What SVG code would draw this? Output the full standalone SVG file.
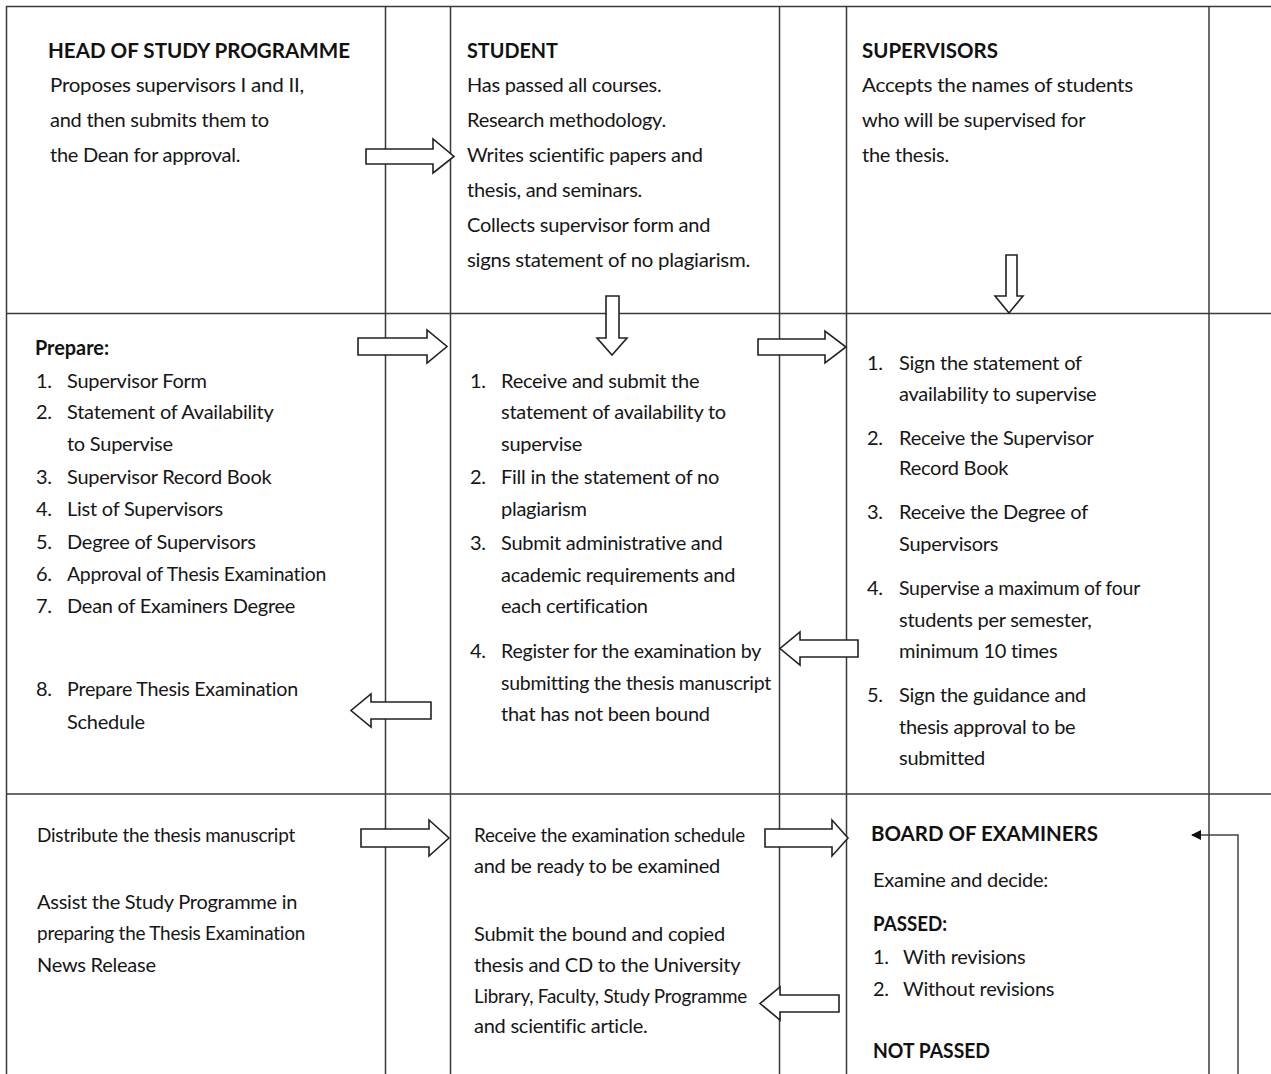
<svg xmlns="http://www.w3.org/2000/svg" width="1271" height="1074" viewBox="0 0 1271 1074">
<style>
text{font-family:Lato,"Open Sans","Liberation Sans",sans-serif;font-size:20px;letter-spacing:-0.25px;fill:#161616}
.b{font-weight:bold;font-size:21px;letter-spacing:0;fill:#111}
.grid{stroke:#3a3a3a;stroke-width:1.5;fill:none}
.ba{fill:#fff;stroke:#222;stroke-width:1.6;stroke-linejoin:miter}
.fl{stroke:#444;stroke-width:1.5;fill:none}
</style>
<defs>
<marker id="ah" markerWidth="10" markerHeight="10" refX="9" refY="5" orient="auto" markerUnits="userSpaceOnUse">
<path d="M0,0 L10,5 L0,10 z" fill="#111"/>
</marker>
</defs>
<rect width="1271" height="1074" fill="#fff"/>
<g id="grid" class="grid">
<line x1="6" y1="6.5" x2="1271" y2="6.5"/>
<line x1="6" y1="313.5" x2="1271" y2="313.5"/>
<line x1="6" y1="794" x2="1271" y2="794"/>
<line x1="6.5" y1="6" x2="6.5" y2="1074"/>
<line x1="385.5" y1="6" x2="385.5" y2="1074"/>
<line x1="450.5" y1="6" x2="450.5" y2="1074"/>
<line x1="779.5" y1="6" x2="779.5" y2="1074"/>
<line x1="846.5" y1="6" x2="846.5" y2="1074"/>
<line x1="1209" y1="6" x2="1209" y2="1074"/>
</g>
<g id="head-r1">
<text class="b" x="48" y="58" textLength="302" lengthAdjust="spacingAndGlyphs">HEAD OF STUDY PROGRAMME</text>
<text x="50" y="92" textLength="254" lengthAdjust="spacingAndGlyphs">Proposes supervisors I and II,</text>
<text x="50" y="127">and then submits them to</text>
<text x="50" y="162">the Dean for approval.</text>
</g>
<g id="student-r1">
<text class="b" x="467" y="58" textLength="91" lengthAdjust="spacingAndGlyphs">STUDENT</text>
<text x="467" y="92">Has passed all courses.</text>
<text x="467" y="127">Research methodology.</text>
<text x="467" y="162">Writes scientific papers and</text>
<text x="467" y="197">thesis, and seminars.</text>
<text x="467" y="232">Collects supervisor form and</text>
<text x="467" y="267" textLength="283" lengthAdjust="spacingAndGlyphs">signs statement of no plagiarism.</text>
</g>
<g id="supervisors-r1">
<text class="b" x="862" y="58" textLength="136" lengthAdjust="spacingAndGlyphs">SUPERVISORS</text>
<text x="862" y="92" textLength="271" lengthAdjust="spacingAndGlyphs">Accepts the names of students</text>
<text x="862" y="127">who will be supervised for</text>
<text x="862" y="162">the thesis.</text>
</g>
<g id="head-r2">
<text class="b" x="35" y="355" textLength="74" lengthAdjust="spacingAndGlyphs" style="font-size:20px">Prepare:</text>
<text x="36" y="388">1.</text><text x="67" y="388">Supervisor Form</text>
<text x="36" y="419">2.</text><text x="67" y="419">Statement of Availability</text>
<text x="67" y="451">to Supervise</text>
<text x="36" y="484">3.</text><text x="67" y="484">Supervisor Record Book</text>
<text x="36" y="516">4.</text><text x="67" y="516">List of Supervisors</text>
<text x="36" y="549">5.</text><text x="67" y="549">Degree of Supervisors</text>
<text x="36" y="581">6.</text><text x="67" y="581" textLength="259" lengthAdjust="spacingAndGlyphs">Approval of Thesis Examination</text>
<text x="36" y="613">7.</text><text x="67" y="613">Dean of Examiners Degree</text>
<text x="36" y="696">8.</text><text x="67" y="696" textLength="231" lengthAdjust="spacingAndGlyphs">Prepare Thesis Examination</text>
<text x="67" y="729">Schedule</text>
</g>
<g id="student-r2">
<text x="470" y="388">1.</text><text x="501" y="388">Receive and submit the</text>
<text x="501" y="419">statement of availability to</text>
<text x="501" y="451">supervise</text>
<text x="470" y="484">2.</text><text x="501" y="484">Fill in the statement of no</text>
<text x="501" y="516">plagiarism</text>
<text x="470" y="550">3.</text><text x="501" y="550">Submit administrative and</text>
<text x="501" y="582">academic requirements and</text>
<text x="501" y="613">each certification</text>
<text x="470" y="658">4.</text><text x="501" y="658" textLength="260" lengthAdjust="spacingAndGlyphs">Register for the examination by</text>
<text x="501" y="690" textLength="270" lengthAdjust="spacingAndGlyphs">submitting the thesis manuscript</text>
<text x="501" y="721">that has not been bound</text>
</g>
<g id="supervisors-r2">
<text x="867" y="370">1.</text><text x="899" y="370">Sign the statement of</text>
<text x="899" y="401">availability to supervise</text>
<text x="867" y="445">2.</text><text x="899" y="445">Receive the Supervisor</text>
<text x="899" y="475">Record Book</text>
<text x="867" y="519">3.</text><text x="899" y="519">Receive the Degree of</text>
<text x="899" y="551">Supervisors</text>
<text x="867" y="595">4.</text><text x="899" y="595" textLength="241" lengthAdjust="spacingAndGlyphs">Supervise a maximum of four</text>
<text x="899" y="627">students per semester,</text>
<text x="899" y="658">minimum 10 times</text>
<text x="867" y="702">5.</text><text x="899" y="702">Sign the guidance and</text>
<text x="899" y="734">thesis approval to be</text>
<text x="899" y="765">submitted</text>
</g>
<g id="head-r3">
<text x="37" y="842" textLength="258" lengthAdjust="spacingAndGlyphs">Distribute the thesis manuscript</text>
<text x="37" y="909">Assist the Study Programme in</text>
<text x="37" y="940" textLength="268" lengthAdjust="spacingAndGlyphs">preparing the Thesis Examination</text>
<text x="37" y="972">News Release</text>
</g>
<g id="student-r3">
<text x="474" y="842" textLength="271" lengthAdjust="spacingAndGlyphs">Receive the examination schedule</text>
<text x="474" y="873">and be ready to be examined</text>
<text x="474" y="941">Submit the bound and copied</text>
<text x="474" y="972">thesis and CD to the University</text>
<text x="474" y="1003" textLength="273" lengthAdjust="spacingAndGlyphs">Library, Faculty, Study Programme</text>
<text x="474" y="1033">and scientific article.</text>
</g>
<g id="board-r3">
<text class="b" x="871" y="841" textLength="227" lengthAdjust="spacingAndGlyphs">BOARD OF EXAMINERS</text>
<text x="873" y="887">Examine and decide:</text>
<text class="b" x="873" y="931" textLength="74" lengthAdjust="spacingAndGlyphs" style="font-size:20px">PASSED:</text>
<text x="873" y="964">1.</text><text x="903" y="964">With revisions</text>
<text x="873" y="996">2.</text><text x="903" y="996">Without revisions</text>
<text class="b" x="873" y="1058" textLength="117" lengthAdjust="spacingAndGlyphs" style="font-size:20px">NOT PASSED</text>
</g>
<g id="connectors">
<polygon class="ba" points="366,149 433,149 433,139 454,156.5 433,173 433,164 366,164"/>
<polygon class="ba" points="606,296 619,296 619,338 627,338 612,355 597,338 606,338"/>
<polygon class="ba" points="358,338 427,338 427,330 447,346.5 427,363 427,355 358,355"/>
<polygon class="ba" points="758,339 825,339 825,331 846,347 825,363 825,355 758,355"/>
<polygon class="ba" points="1006,255 1017,255 1017,296 1023,296 1009,313 995,296 1006,296"/>
<polygon class="ba" points="858,640 800,640 800,632 780,648.5 800,665 800,657 858,657"/>
<polygon class="ba" points="431,702 371,702 371,694 351,710.5 371,727 371,719 431,719"/>
<polygon class="ba" points="361,829 429,829 429,820 449,838 429,856 429,847 361,847"/>
<polygon class="ba" points="765,829 832,829 832,820 848,838 832,856 832,847 765,847"/>
<polygon class="ba" points="839,995 780,995 780,987 760,1003.5 780,1020 780,1012 839,1012"/>
<polyline class="fl" points="1238,1074 1238,835 1192,835" marker-end="url(#ah)"/>
</g>
</svg>
